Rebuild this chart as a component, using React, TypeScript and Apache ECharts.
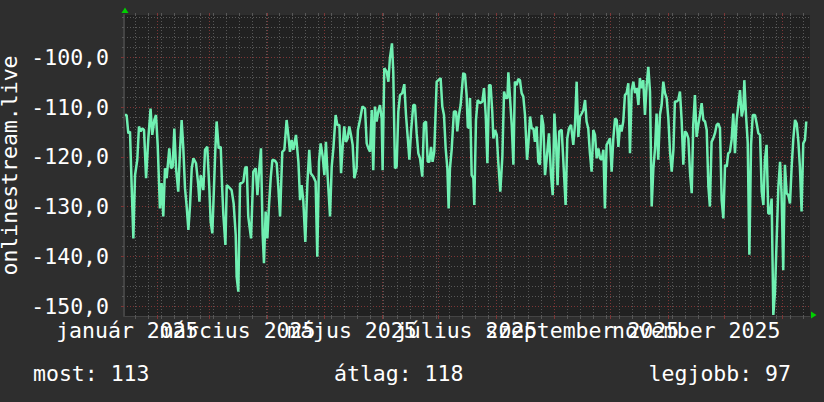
import React, { useEffect, useRef } from "react";
import * as echarts from "echarts";

// sample times, in days since 2025-01-01 (day 0)
const sampleDay = [
  13.7, 14.6, 15.5, 16.4, 17.3, 18.2, 19.1, 20.3, 21.2, 22.1,
  23.0, 23.9, 25.0, 26.2, 27.4, 28.3, 29.4, 30.3, 31.2, 32.4,
  33.3, 34.2, 35.1, 36.0, 37.4, 38.3, 39.2, 40.1, 41.0, 42.2,
  43.1, 44.0, 44.9, 45.8, 46.7, 47.6, 48.5, 49.4, 50.3, 51.7,
  52.9, 53.5, 54.2, 55.6, 56.5, 57.7, 58.8, 59.5, 60.4, 61.3,
  62.0, 62.7, 63.8, 64.9, 65.6, 66.3, 67.4, 68.1, 69.0, 70.7,
  71.8, 72.9, 73.4, 74.3, 75.2, 76.1, 77.0, 77.9, 78.8, 79.6,
  81.1, 82.3, 83.6, 84.5, 85.5, 86.4, 87.3, 88.0, 88.9, 89.8,
  90.7, 91.6, 92.5, 93.9, 94.8, 95.7, 96.6, 97.8, 98.9, 100.1,
  101.0, 101.9, 102.8, 103.7, 105.1, 106.4, 107.3, 108.1, 109.0, 110.1,
  111.2, 112.2, 113.0, 114.4, 115.6, 116.5, 117.4, 118.3, 119.4, 120.3,
  121.1, 122.0, 123.3, 124.2, 125.1, 126.3, 127.2, 128.3, 129.2, 130.1,
  130.9, 131.8, 132.7, 133.6, 134.5, 135.4, 136.3, 137.5, 138.2, 139.3,
  140.6, 142.0, 142.9, 143.8, 144.7, 145.6, 146.4, 147.3, 148.2, 149.1,
  150.0, 150.9, 151.4, 152.3, 153.6, 154.5, 155.3, 156.4, 157.1, 158.0,
  158.9, 159.8, 160.7, 161.9, 163.0, 163.9, 164.8, 165.7, 166.6, 167.8,
  168.7, 169.6, 170.5, 171.4, 172.6, 173.5, 174.6, 175.5, 176.4, 177.3,
  178.1, 179.0, 180.3, 181.2, 182.4, 183.3, 184.2, 185.1, 186.0, 186.7,
  187.4, 188.3, 189.5, 190.6, 191.3, 192.2, 193.1, 194.5,
  195.4, 196.3, 196.9, 197.6, 198.1, 199.0, 199.9, 200.4, 201.3, 202.2,
  203.4, 204.7, 205.6, 206.5, 207.4, 208.3, 209.1, 210.0, 210.6, 211.5,
  212.4, 213.2, 214.3, 215.4, 216.3, 217.2, 218.1, 218.6, 219.5, 220.4,
  221.3, 222.1, 223.0, 223.9, 224.8, 225.7, 226.6, 227.5, 228.6, 229.3,
  230.2, 231.1, 232.0, 232.8, 233.7, 234.6, 235.5, 236.4, 237.3, 238.2,
  239.1, 240.3, 241.4, 242.3, 243.2, 244.1, 244.9, 245.8, 247.1, 248.0,
  249.2, 250.1, 251.0, 252.1, 253.3, 254.2, 255.1, 256.0, 256.9, 257.8,
  258.7, 259.6, 260.4, 261.3, 262.2, 263.1, 264.0, 264.9, 265.8, 266.7,
  267.6, 268.5, 269.4, 270.2, 271.1, 272.0, 272.9, 273.8, 274.7, 275.6,
  276.5, 277.4, 278.3, 279.1, 280.0, 280.9, 281.8, 282.7, 283.6, 284.5,
  285.4, 286.3, 287.2, 288.1, 288.9, 289.8, 290.7, 291.6, 292.5, 293.4,
  294.3, 295.2, 296.1, 297.0, 297.8, 298.7, 299.6, 300.5, 301.4, 302.3,
  303.2, 304.1, 305.0, 305.9, 306.8, 307.6, 308.5, 309.4, 310.3, 311.2,
  312.1, 313.0, 313.9, 314.8, 315.7, 316.6, 317.4, 318.3, 319.2, 320.1,
  321.0, 321.9, 322.8, 323.7, 324.6, 325.5, 326.3, 327.2, 328.1, 329.0,
  329.9, 330.8, 331.7, 332.6, 333.5, 334.4, 335.3, 336.1, 337.0, 337.9,
  338.8, 339.7, 340.6, 341.5, 342.4, 343.3, 344.2, 344.7, 345.6, 346.5,
  347.4, 348.3, 349.2, 350.4, 351.3, 352.2, 353.1, 354.0, 354.9, 355.7,
  356.6, 357.5, 358.4, 359.3, 360.2, 361.1, 362.0, 362.9, 363.8, 364.6,
  365.5, 366.4, 367.3, 368.2, 369.1, 370.0, 370.9, 371.8, 372.7, 373.6,
  374.4, 375.3, 376.2, 377.1, 377.8,
];

const signal = [
  -111.6, -111.6, -115.3, -114.9, -126.0, -136.4, -123.7, -120.6, -113.9, -114.9,
  -114.3, -114.6, -124.3, -116.3, -110.3, -115.6, -112.6, -111.6, -117.6, -130.4,
  -125.3, -132.0, -122.3, -124.3, -118.3, -122.3, -122.0, -114.3, -122.3, -127.0,
  -119.0, -112.6, -118.3, -126.3, -130.0, -134.7, -129.7, -122.3, -120.3, -121.3,
  -125.7, -129.0, -123.7, -126.7, -118.6, -118.0, -126.3, -133.0, -135.4, -126.0,
  -118.6, -112.9, -118.3, -118.0, -125.7, -131.7, -137.7, -125.7, -126.0, -126.7,
  -129.4, -135.7, -144.1, -147.1, -125.3, -125.3, -125.0, -122.3, -122.0, -132.0,
  -136.4, -123.0, -122.3, -127.7, -122.3, -118.3, -135.7, -141.4, -131.0, -136.4,
  -129.7, -124.3, -120.6, -120.8, -121.3, -126.3, -132.0, -119.0, -118.6, -112.6,
  -115.6, -119.0, -116.6, -118.6, -115.6, -121.0, -128.7, -125.7, -128.7, -137.1,
  -125.3, -118.6, -123.3, -124.0, -125.0, -140.1, -121.0, -117.3, -120.0, -123.7,
  -117.0, -123.7, -132.0, -122.0, -118.3, -111.6, -113.6, -113.6, -123.3, -117.6,
  -113.9, -117.0, -116.3, -113.9, -115.6, -117.6, -124.3, -122.3, -114.6, -112.6,
  -109.9, -110.3, -117.3, -118.3, -119.0, -110.6, -122.7, -109.9, -112.9, -110.9,
  -109.6, -112.3, -122.7, -102.2, -102.9, -104.9, -100.2, -97.2, -102.9, -122.3,
  -122.0, -110.9, -107.6, -107.2, -105.4, -111.6, -116.0, -120.6, -114.9, -109.6,
  -109.6, -115.3, -119.3, -120.3, -124.0, -113.3, -112.9, -121.0, -121.0, -118.0,
  -121.0, -119.0, -104.9, -104.6, -104.2, -109.9, -111.6, -118.3, -122.3, -130.4,
  -122.3, -118.6, -110.9, -110.9, -114.9, -111.6, -109.6, -103.2,
  -103.4, -107.6, -113.9, -114.3, -108.2, -123.7, -124.3, -129.7, -112.6, -108.6,
  -109.2, -108.9, -106.2, -111.6, -121.3, -105.6, -105.6, -110.9, -116.3, -114.6,
  -115.6, -121.0, -127.0, -120.0, -106.9, -108.2, -108.2, -103.0, -108.2, -113.6,
  -121.6, -104.9, -105.6, -104.4, -104.6, -107.2, -107.9, -111.6, -120.6, -117.3,
  -111.9, -114.3, -114.3, -117.0, -113.9, -121.0, -121.6, -111.6, -113.6, -123.7,
  -120.3, -115.3, -123.7, -127.7, -111.3, -117.3, -125.7, -114.9, -114.6, -121.0,
  -129.7, -116.3, -114.3, -113.6, -117.6, -113.6, -104.9, -116.0, -111.9, -111.3,
  -110.6, -108.6, -112.9, -114.3, -119.3, -123.0, -114.6, -115.6, -120.3, -118.3,
  -120.3, -120.6, -118.6, -130.4, -117.6, -117.0, -116.3, -123.0, -116.3, -112.3,
  -112.6, -118.0, -113.6, -114.9, -112.9, -107.6, -107.2, -105.2, -119.3, -106.6,
  -104.9, -107.2, -106.2, -109.6, -104.2, -106.2, -104.6, -111.6, -105.6, -101.9,
  -106.9, -130.0, -122.3, -118.3, -111.3, -120.6, -111.6, -109.6, -104.9, -107.2,
  -108.2, -112.3, -119.0, -123.0, -118.6, -108.9, -108.9, -108.6, -106.9, -112.6,
  -121.6, -114.9, -115.3, -116.3, -123.3, -127.3, -113.6, -107.6, -116.0, -113.6,
  -111.6, -109.2, -112.6, -112.9, -114.6, -126.0, -130.0, -117.0, -116.3, -115.3,
  -113.6, -113.3, -114.3, -128.7, -132.4, -121.6, -122.0, -119.3, -119.0, -116.6,
  -111.3, -119.3, -112.6, -109.6, -106.6, -111.9, -110.3, -104.6, -111.6, -117.0,
  -139.7, -117.6, -111.6, -111.6, -113.3, -115.3, -115.6, -127.0, -129.7, -120.6,
  -117.6, -131.4, -131.4, -128.4, -151.8, -147.1, -136.4, -126.0, -121.0, -127.3,
  -142.8, -121.6, -127.3, -127.7, -129.4, -122.0, -116.3, -112.6, -113.3, -117.0,
  -122.0, -131.0, -117.3, -116.6, -112.9,
];

// weekly (Monday) minor grid positions, days since 2025-01-01
const weekTicks = [
  19, 26, 33, 40, 47, 54, 61, 68, 75, 82, 89, 96, 103, 110, 117, 124, 131, 138,
  145, 152, 159, 166, 173, 180, 187, 194, 201, 208, 215, 222, 229, 236, 243, 250,
  257, 264, 271, 278, 285, 292, 299, 306, 313, 320, 327, 334, 341, 348, 355, 362,
  369, 376,
];
// first day of each month (major grid)
const monthStarts = [31, 59, 90, 120, 151, 181, 212, 243, 273, 304, 334, 365];
// label positions (month start + 15 days) and texts
const labelDays = [15, 74, 135, 196, 258, 319];
const monthLabels = [
  "január 2025",
  "március 2025",
  "május 2025",
  "július 2025",
  "szeptember 2025",
  "november 2025",
];
const minorY = [
  -150, -148, -146, -144, -142, -140, -138, -136, -134, -132, -130, -128, -126,
  -124, -122, -120, -118, -116, -114, -112, -110, -108, -106, -104, -102, -100,
  -98, -96, -94, -92,
];
const majorY = [-150, -140, -130, -120, -110, -100];
const axisTitle = "onlinestream.live";
const summaryLabels = ["most: 113", "átlag: 118", "legjobb: 97"];

const X_MIN = 13.2;
const X_MAX = 379.8;
const Y_MIN = -152;
const Y_MAX = -91.5;

export default function App() {
  const ref = useRef<HTMLDivElement>(null);

  useEffect(() => {
    if (!ref.current) return;
    const chart = echarts.init(ref.current, null, { renderer: "svg" });
    const font = "DejaVu Sans Mono";
    const FS = 21.5;
    const minorColor = "#585858";
    const majorColor = "#7e3636";
    const data = sampleDay.map((d, i) => [d, signal[i]]);

    const xBase = { type: "value", min: X_MIN, max: X_MAX };
    const yBase = { type: "value", min: Y_MIN, max: Y_MAX };

    const monthLabel = (v: number) => {
      const i = labelDays.indexOf(Math.round(v));
      return i >= 0 ? monthLabels[i] : "";
    };
    // alternate labels go on two axes so that overlapping labels are all drawn
    const labelAxis = (parity: number) => ({
      ...xBase,
      position: "bottom",
      axisLine: { show: false, onZero: false },
      axisTick: { show: false },
      splitLine: { show: false },
      axisLabel: {
        show: true,
        customValues: labelDays.filter((_, i) => i % 2 === parity),
        showMinLabel: true,
        showMaxLabel: true,
        hideOverlap: false,
        formatter: monthLabel,
        color: "#ffffff",
        fontFamily: font,
        fontSize: FS,
        margin: 3,
      },
    });

    chart.setOption({
      animation: false,
      backgroundColor: "#2e2e2e",
      grid: {
        left: 124,
        top: 15,
        width: 686,
        height: 301,
        show: true,
        backgroundColor: "#212121",
        borderWidth: 0,
        containLabel: false,
        outerBoundsMode: "none",
      },
      xAxis: [
        {
          ...xBase,
          position: "bottom",
          axisLine: { show: true, onZero: false, lineStyle: { color: "#444444", width: 1 } },
          axisTick: { show: true, customValues: weekTicks, length: 3, lineStyle: { color: minorColor } },
          axisLabel: { show: false },
          splitLine: { show: true, lineStyle: { color: minorColor, width: 1, type: [1, 2] } },
        },
        {
          ...xBase,
          position: "bottom",
          axisLine: { show: false, onZero: false },
          axisTick: { show: true, customValues: monthStarts, length: 3, lineStyle: { color: majorColor } },
          splitLine: { show: true, lineStyle: { color: majorColor, width: 1, type: [1, 2] } },
          axisLabel: { show: false },
        },
        {
          ...xBase,
          position: "top",
          axisLine: { show: false, onZero: false },
          axisTick: { show: true, customValues: weekTicks, length: 2, lineStyle: { color: minorColor } },
          axisLabel: { show: false },
          splitLine: { show: false },
        },
        {
          ...xBase,
          position: "top",
          axisLine: { show: false, onZero: false },
          axisTick: { show: true, customValues: monthStarts, length: 2, lineStyle: { color: majorColor } },
          axisLabel: { show: false },
          splitLine: { show: false },
        },
        labelAxis(0),
        labelAxis(1),
      ],
      yAxis: [
        {
          ...yBase,
          position: "left",
          axisLine: { show: true, onZero: false, lineStyle: { color: "#444444", width: 2 } },
          axisTick: { show: true, customValues: minorY, length: 2, lineStyle: { color: minorColor } },
          axisLabel: { show: false },
          splitLine: { show: true, lineStyle: { color: minorColor, width: 1, type: [1, 2] } },
        },
        {
          ...yBase,
          position: "left",
          axisLine: { show: false, onZero: false },
          axisTick: { show: true, customValues: majorY, length: 3, lineStyle: { color: majorColor } },
          splitLine: { show: true, lineStyle: { color: majorColor, width: 1, type: [1, 2] } },
          axisLabel: {
            show: true,
            customValues: majorY,
            showMinLabel: true,
            showMaxLabel: true,
            formatter: (v: number) => v.toFixed(1).replace(".", ","),
            color: "#ffffff",
            fontFamily: font,
            fontSize: FS,
            margin: 15,
          },
          name: axisTitle,
          nameLocation: "middle",
          nameRotate: 90,
          nameGap: 91,
          nameTextStyle: { color: "#ffffff", fontFamily: font, fontSize: FS },
        },
      ],
      series: [
        {
          type: "line",
          xAxisIndex: 0,
          yAxisIndex: 0,
          data,
          showSymbol: false,
          symbol: "none",
          clip: true,
          z: 5,
          lineStyle: { color: "#70f0b2", width: 2.5 },
        },
      ],
      graphic: [
        {
          type: "text",
          x: 33,
          y: 373,
          style: { text: summaryLabels[0], font: `${FS}px "${font}"`, fill: "#ffffff", align: "left", verticalAlign: "middle" },
        },
        {
          type: "text",
          x: 334,
          y: 373,
          style: { text: summaryLabels[1], font: `${FS}px "${font}"`, fill: "#ffffff", align: "left", verticalAlign: "middle" },
        },
        {
          type: "text",
          x: 791,
          y: 373,
          style: { text: summaryLabels[2], font: `${FS}px "${font}"`, fill: "#ffffff", align: "right", verticalAlign: "middle" },
        },
        {
          type: "polygon",
          shape: { points: [[125, 7.5], [121.5, 13], [128.5, 13]] },
          style: { fill: "#00d000" },
        },
        {
          type: "polygon",
          shape: { points: [[811, 311.5], [811, 318.5], [816.5, 315]] },
          style: { fill: "#00d000" },
        },
      ],
    });

    return () => chart.dispose();
  }, []);

  return (
    <div
      ref={ref}
      style={{ position: "fixed", left: 0, top: 0, width: 824, height: 402 }}
    />
  );
}
